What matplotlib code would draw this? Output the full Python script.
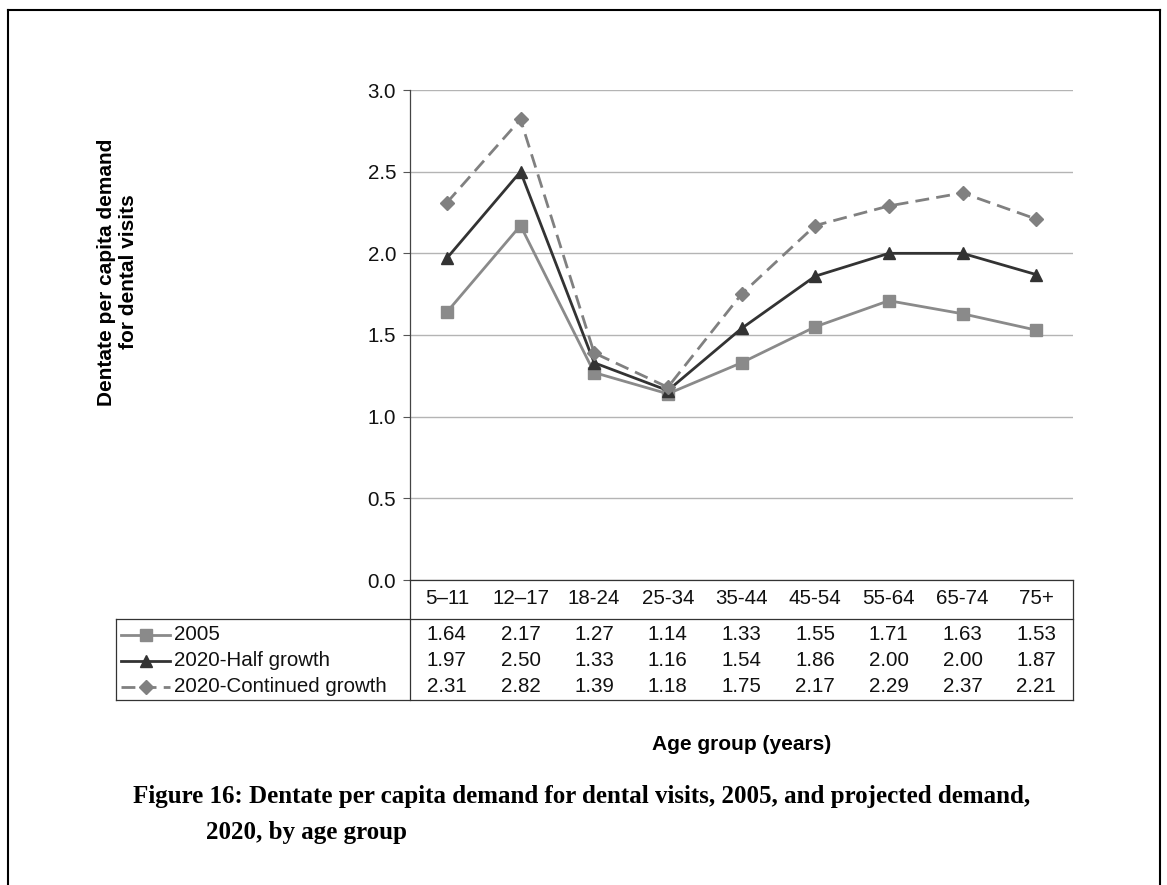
import matplotlib
matplotlib.use("Agg")
import matplotlib.pyplot as plt
from matplotlib.lines import Line2D

# Data
age_groups = ["5\u201311", "12\u201317", "18-24", "25-34", "35-44", "45-54", "55-64", "65-74", "75+"]
series_names = ["2005", "2020-Half growth", "2020-Continued growth"]
demand_2005 = [1.64, 2.17, 1.27, 1.14, 1.33, 1.55, 1.71, 1.63, 1.53]
demand_half = [1.97, 2.50, 1.33, 1.16, 1.54, 1.86, 2.00, 2.00, 1.87]
demand_cont = [2.31, 2.82, 1.39, 1.18, 1.75, 2.17, 2.29, 2.37, 2.21]
y_ticks = [0.0, 0.5, 1.0, 1.5, 2.0, 2.5, 3.0]

plt.rcParams["font.family"] = ["Liberation Sans", "DejaVu Sans"]

W, H = 1167, 885
fig = plt.figure(figsize=(W / 100, H / 100), dpi=100)

def fx(px):
    return px / W

def fy(py):
    return 1 - py / H

TXT = 14.8
ax_l, ax_r, ax_t, ax_b = 410, 1073, 90, 580
ax = fig.add_axes([fx(ax_l), fy(ax_b), fx(ax_r - ax_l), (ax_b - ax_t) / H])

styles = [
    dict(color="#8a8a8a", marker="s", markersize=8.5, linestyle="-", linewidth=2.0),
    dict(color="#333333", marker="^", markersize=8.5, linestyle="-", linewidth=2.0),
    dict(color="#808080", marker="D", markersize=7, linestyle=(0, (5, 2.6)), linewidth=2.0),
]
all_series = [demand_2005, demand_half, demand_cont]

x = list(range(len(age_groups)))
for vals, st in zip(all_series, styles):
    ax.plot(x, vals, clip_on=False, zorder=3, **st)

ax.set_xlim(-0.5, len(age_groups) - 0.5)
ax.set_ylim(0, 3.0)
ax.set_yticks(y_ticks)
ax.set_yticklabels([f"{v:.1f}" for v in y_ticks], fontsize=TXT, color="#111111")
ax.tick_params(axis="y", length=5, width=0.8, color="#555555", pad=5)
ax.set_xticks([])
ax.grid(axis="y", color="#b4b4b4", linewidth=1.0)
ax.set_axisbelow(True)
for s in ["top", "right", "bottom"]:
    ax.spines[s].set_visible(False)
ax.spines["left"].set_color("#444444")
ax.spines["left"].set_linewidth(0.9)

# Data table below the plot
tbl_left, tbl_top, tbl_bot = 116, 619, 700
row_y = [635, 661, 687]
cat_y = 599
lc = "#333333"
lw = 0.9

def hline(y, x0, x1):
    fig.add_artist(Line2D([fx(x0), fx(x1)], [fy(y), fy(y)], color=lc, linewidth=lw))

def vline(xp, y0, y1):
    fig.add_artist(Line2D([fx(xp), fx(xp)], [fy(y0), fy(y1)], color=lc, linewidth=lw))

hline(ax_b, ax_l, ax_r)
hline(tbl_top, tbl_left, ax_r)
hline(tbl_bot, tbl_left, ax_r)
vline(ax_l, ax_b, tbl_bot)
vline(ax_r, ax_b, tbl_bot)
vline(tbl_left, tbl_top, tbl_bot)

bin_w = (ax_r - ax_l) / len(age_groups)
for i, lab in enumerate(age_groups):
    cx = ax_l + bin_w * (i + 0.5)
    fig.text(fx(cx), fy(cat_y), lab, ha="center", va="center", fontsize=TXT, color="#111111")

for r, (name, vals, st) in enumerate(zip(series_names, all_series, styles)):
    yy = fy(row_y[r])
    fig.add_artist(Line2D([fx(121), fx(170)], [yy, yy], color=st["color"],
                          linestyle=st["linestyle"], linewidth=st["linewidth"]))
    fig.add_artist(Line2D([fx(145.5)], [yy], color=st["color"], marker=st["marker"],
                          markersize=st["markersize"] * 0.95, linestyle="none"))
    fig.text(fx(174), yy, name, ha="left", va="center", fontsize=TXT, color="#111111")
    for i, v in enumerate(vals):
        cx = ax_l + bin_w * (i + 0.5)
        fig.text(fx(cx), yy, f"{v:.2f}", ha="center", va="center", fontsize=TXT, color="#111111")

# Axis titles
fig.text(fx(117), fy(272), "Dentate per capita demand\nfor dental visits", rotation=90,
         ha="center", va="center", fontsize=15, fontweight="bold", linespacing=1.2)
fig.text(fx(742), fy(745), "Age group (years)", ha="center", va="center",
         fontsize=15, fontweight="bold")

# Caption
cap_font = dict(family=["Liberation Serif", "DejaVu Serif"], fontweight="bold", fontsize=18)
fig.text(fx(133), fy(797), "Figure 16: Dentate per capita demand for dental visits, 2005, and projected demand,",
         ha="left", va="center", **cap_font)
fig.text(fx(206), fy(832), "2020, by age group", ha="left", va="center", **cap_font)

# Outer frame
frame_kw = dict(color="black", linewidth=1.5)
fig.add_artist(Line2D([fx(8), fx(8)], [fy(10), 0], **frame_kw))
fig.add_artist(Line2D([fx(8), fx(1160)], [fy(10), fy(10)], **frame_kw))
fig.add_artist(Line2D([fx(1160), fx(1160)], [fy(10), 0], **frame_kw))

fig.savefig("out.png", dpi=100, facecolor="white")
